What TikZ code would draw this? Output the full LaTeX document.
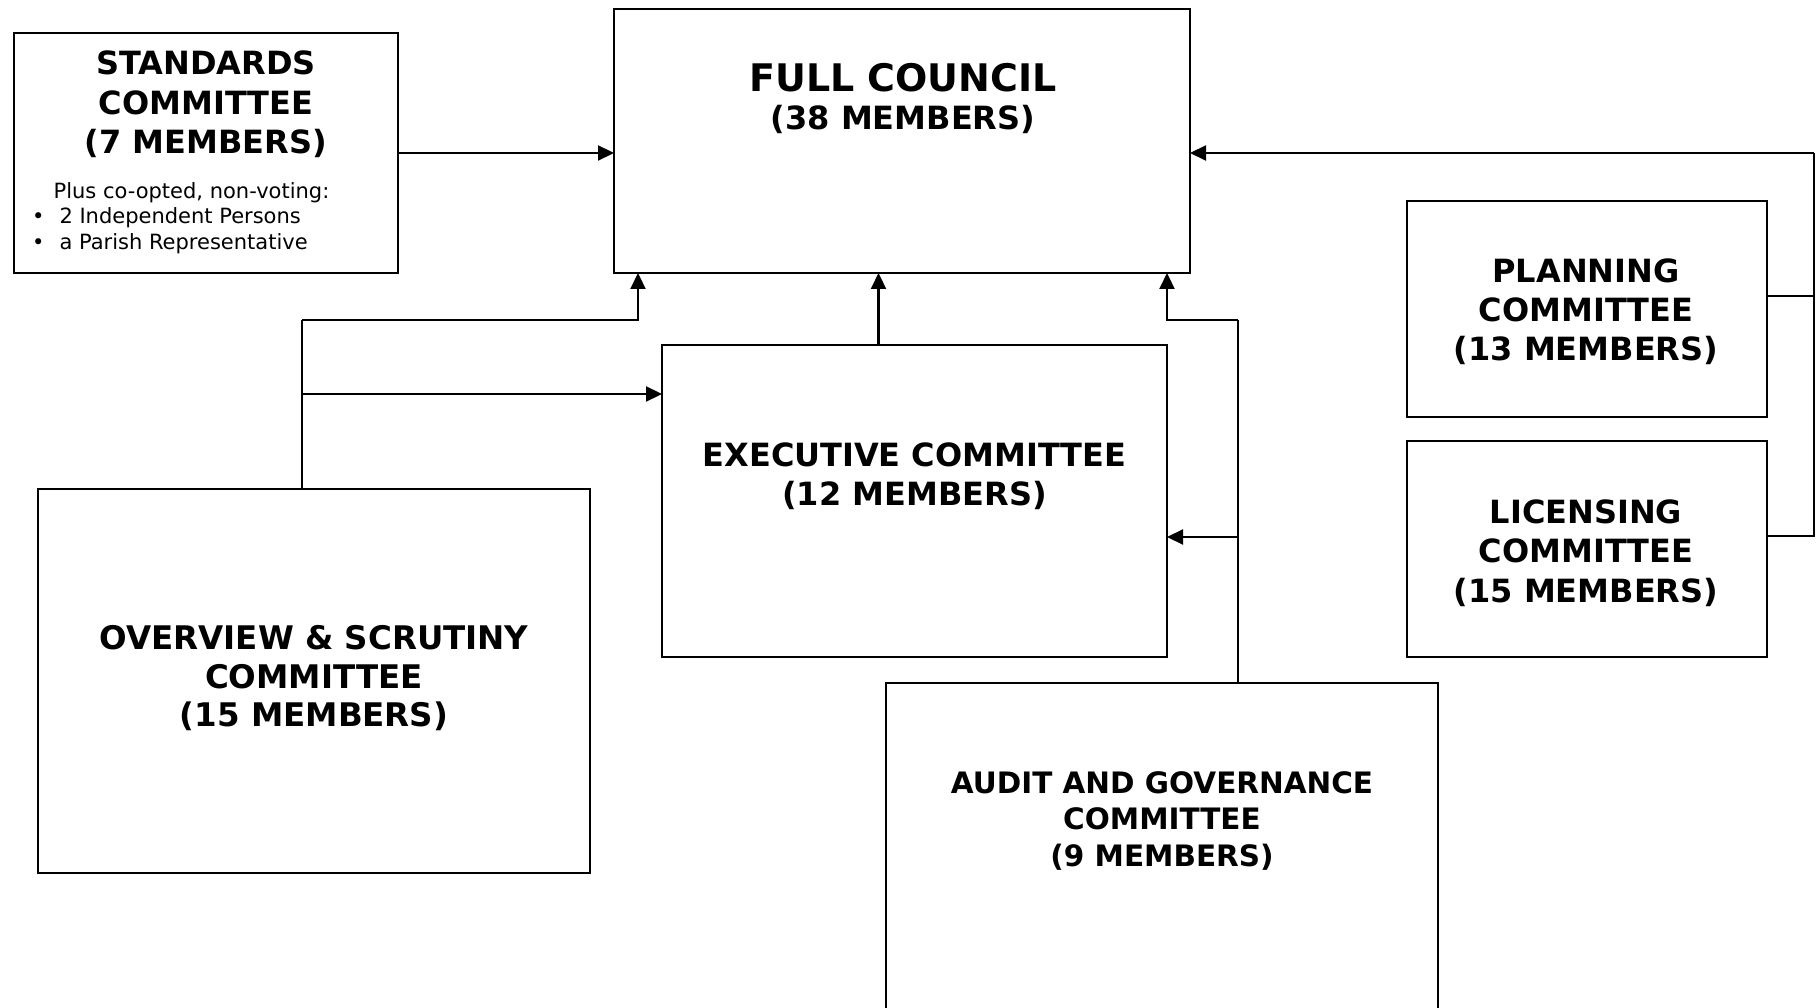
\documentclass[tikz,border=0pt]{standalone}
\usepackage{fontspec}
\setmainfont{DejaVu Sans}
\usetikzlibrary{arrows.meta}
\begin{document}
\begin{tikzpicture}[x=1pt,y=-1pt,
 box/.style={draw=black, line width=2pt, rectangle, inner sep=0pt, outer sep=0pt},
 lbl/.style={anchor=base, inner sep=0pt, font=\fontsize{32}{38}\selectfont\bfseries},
 big/.style={anchor=base, inner sep=0pt, font=\fontsize{38}{44}\selectfont\bfseries},
 lblov/.style={anchor=base, inner sep=0pt, font=\fontsize{32.5}{38}\selectfont\bfseries},
 lblau/.style={anchor=base, inner sep=0pt, font=\fontsize{29.5}{36}\selectfont\bfseries},
 small/.style={anchor=base west, inner sep=0pt, font=\fontsize{21}{25}\selectfont},
 conn/.style={line width=2.2pt, -{Triangle[length=16pt,width=15pt]}},
 link/.style={line width=1.6pt},
]
\useasboundingbox (0,0) rectangle (1820,1008);
\fill[white] (0,0) rectangle (1820,1008);

% boxes
\node[box, minimum width=384pt, minimum height=240pt] (std) at (206,153) {};
\node[box, minimum width=576pt, minimum height=264pt] (fc) at (902,141) {};
\node[box, minimum width=360pt, minimum height=216pt] (plan) at (1587,309) {};
\node[box, minimum width=360pt, minimum height=216pt] (lic) at (1587,549) {};
\node[box, minimum width=505pt, minimum height=312pt] (exec) at (914.5,501) {};
\node[box, minimum width=552pt, minimum height=384pt] (ov) at (314,681) {};
\node[box, minimum width=552pt, minimum height=360pt] (aud) at (1162,863) {};

% labels
\node[lbl] (stdA) at (206,75) {STANDARDS};
\node[lbl] (stdB) at (206,114.3) {COMMITTEE};
\node[lbl] (stdC) at (206,154) {(7 MEMBERS)};
\node[small] (stdP) at (53.4,199) {Plus co-opted, non-voting:};
\node[small] (stdI) at (59.3,224) {2 Independent Persons};
\node[small] (stdR) at (59.3,250) {a Parish Representative};
\node[small, anchor=base] (stdD1) at (38.4,224) {\textbullet};
\node[small, anchor=base] (stdD2) at (38.4,250) {\textbullet};

\node[big] (fcA) at (903,91.5) {FULL COUNCIL};
\node[lbl] (fcB) at (903,129.5) {(38 MEMBERS)};

\node[lbl] (exA) at (914.5,466.5) {EXECUTIVE COMMITTEE};
\node[lbl] (exB) at (914.5,505.8) {(12 MEMBERS)};

\node[lbl] (plA) at (1586,283) {PLANNING};
\node[lbl] (plB) at (1586,321.7) {COMMITTEE};
\node[lbl] (plC) at (1586,360.7) {(13 MEMBERS)};

\node[lbl] (liA) at (1586,523.4) {LICENSING};
\node[lbl] (liB) at (1586,562.4) {COMMITTEE};
\node[lbl] (liC) at (1586,602) {(15 MEMBERS)};

\node[lblov] (ovA) at (314,649.3) {OVERVIEW \& SCRUTINY};
\node[lblov] (ovB) at (314,688.3) {COMMITTEE};
\node[lblov] (ovC) at (314,726.7) {(15 MEMBERS)};

\node[lblau] (auA) at (1162,793) {AUDIT AND GOVERNANCE};
\node[lblau] (auB) at (1162,829) {COMMITTEE};
\node[lblau] (auC) at (1162,866) {(9 MEMBERS)};

% connectors
\draw[conn] (std.east) -- (std.east -| fc.west);

\coordinate (bus) at (1814,153);
\draw[link] ([yshift=13pt]plan.east) -| (bus);
\draw[link] ([yshift=13pt]lic.east) -| (bus);
\draw[conn] (bus) -- (bus -| fc.east);

\coordinate (oj) at (302,320);
\coordinate (oe) at (302,394);
\draw[link] (oj |- ov.north) -- (oj);
\draw[conn] (oj) -| ([xshift=24pt]fc.south west);
\draw[conn] (oe) -- (oe -| exec.west);

\coordinate (ex) at ([xshift=-36pt]exec.north);
\draw[conn] (ex) -- (ex |- fc.south);

\coordinate (aj) at (1238,320);
\coordinate (ae) at (1238,537);
\draw[link] (aj |- aud.north) -- (aj);
\draw[conn] (aj) -| ([xshift=-23pt]fc.south east);
\draw[conn] (ae) -- (ae -| exec.east);
\end{tikzpicture}
\end{document}
